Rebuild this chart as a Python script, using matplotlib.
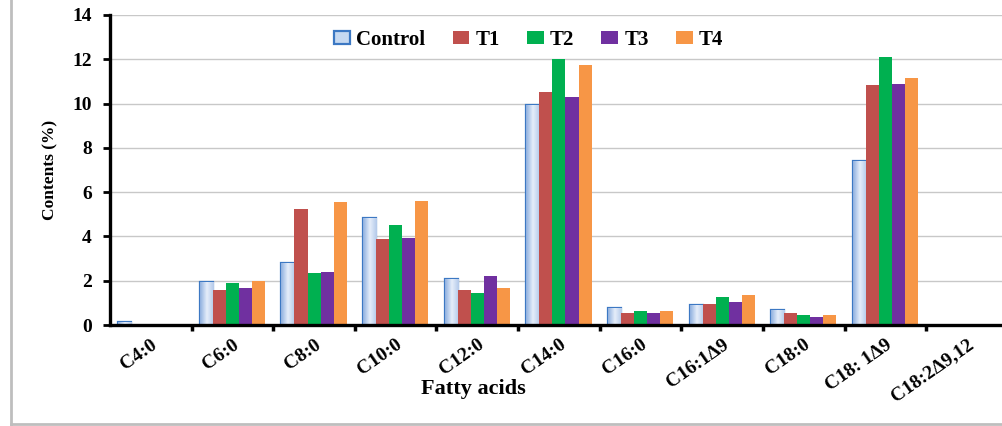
import numpy as np
import matplotlib
matplotlib.use('Agg')
import matplotlib.pyplot as plt
from matplotlib.lines import Line2D
from matplotlib.patches import Rectangle
from matplotlib.colors import LinearSegmentedColormap

acids = ['C4:0', 'C6:0', 'C8:0', 'C10:0', 'C12:0', 'C14:0', 'C16:0',
         'C16:1Δ9', 'C18:0', 'C18: 1Δ9', 'C18:2Δ9,12']
control = [0.12, 1.95, 2.8, 4.85, 2.1, 9.95, 0.75, 0.9, 0.7, 7.4, 0.0]
t1 = [0.02, 1.6, 5.25, 3.9, 1.6, 10.5, 0.55, 0.95, 0.55, 10.85, 0.0]
t2 = [0.02, 1.9, 2.35, 4.5, 1.45, 12.0, 0.65, 1.25, 0.45, 12.1, 0.0]
t3 = [0.06, 1.65, 2.4, 3.95, 2.2, 10.3, 0.55, 1.05, 0.35, 10.9, 0.0]
t4 = [0.05, 2.0, 5.55, 5.6, 1.65, 11.75, 0.65, 1.35, 0.45, 11.15, 0.0]
series = ['Control', 'T1', 'T2', 'T3', 'T4']
colors = ['#C6D9F1', '#C0504D', '#00B050', '#7030A0', '#F79646']

fam = ['Liberation Serif', 'DejaVu Serif']
plt.rcParams['font.family'] = fam
plt.rcParams['font.weight'] = 'bold'
plt.rcParams['axes.labelweight'] = 'bold'

fig = plt.figure(figsize=(10.02, 4.26), dpi=100)
ax = fig.add_axes([0.1098, 0.237, 0.896, 0.728])

x = np.arange(len(acids))
w = 0.16
data = [control, t1, t2, t3, t4]
grad = np.linspace(0, 1, 64).reshape(1, -1)
cmap = LinearSegmentedColormap.from_list('g', ['#8FB0DF', '#E6EEFA', '#B3C9EA'])
handles = []
for i, (vals, c) in enumerate(zip(data, colors)):
    xs = x - 0.4 + w * i + w / 2
    if i == 0:
        bars = ax.bar(xs, vals, w, color=c, edgecolor='#3C78C3', linewidth=1.6, zorder=3)
        for b in bars:
            if b.get_height() <= 0:
                b.set_visible(False)
                continue
            im = ax.imshow(grad, cmap=cmap, aspect='auto', zorder=3,
                           extent=[b.get_x(), b.get_x() + b.get_width(), 0, b.get_height()])
            im.set_clip_path(b)
        handles.append(Rectangle((0, 0), 1, 1, facecolor=c, edgecolor='#3C78C3', linewidth=1.6))
    else:
        ax.bar(xs, vals, w, color=c, edgecolor='none', zorder=3)
        handles.append(Rectangle((0, 0), 1, 1, facecolor=c, edgecolor='none'))

ax.set_xlim(-0.5, len(acids) - 0.5)
ax.set_ylim(0, 14)
ax.set_yticks(np.arange(0, 15, 2))
ax.yaxis.grid(True, color='#C8C8C8', linewidth=1)
ax.set_axisbelow(True)
for s in ['top', 'right']:
    ax.spines[s].set_visible(False)
ax.spines['left'].set_linewidth(2.4)
ax.spines['bottom'].set_linewidth(2.4)
ax.spines['bottom'].set_zorder(4)
ax.tick_params(axis='y', labelsize=14, length=5, width=2, direction='out', pad=8)
ax.set_xticks(x)
ax.set_xticklabels(acids, rotation=35, ha='right', va='top', rotation_mode='anchor',
                   fontsize=14, family=fam, fontweight='bold')
ax.tick_params(axis='x', length=0, pad=8)
ax.set_xticks(np.arange(-0.5, len(acids), 1)[1:], minor=True)
ax.tick_params(axis='x', which='minor', length=4, width=2.5, direction='out')

ax.set_ylabel('Contents (%)', fontsize=12.5, labelpad=10, family=fam, fontweight='bold')
ax.set_xlabel('Fatty acids', fontsize=16, family=fam, fontweight='bold')
ax.xaxis.set_label_coords(0.405, -0.175)

ax.legend(handles, series, loc='upper center', bbox_to_anchor=(0.466, 1.012), ncol=5,
          frameon=False, handlelength=0.8, handleheight=0.55,
          handletextpad=0.3, columnspacing=1.3,
          prop={'family': fam, 'weight': 'bold', 'size': 15})

fig.add_artist(Line2D([0.011, 0.011], [0.0, 1.0], color='#BEBEBE', linewidth=2, transform=fig.transFigure))
fig.add_artist(Line2D([0.011, 1.0], [0.004, 0.004], color='#BEBEBE', linewidth=2, transform=fig.transFigure))

fig.savefig('out.png', dpi=100)
